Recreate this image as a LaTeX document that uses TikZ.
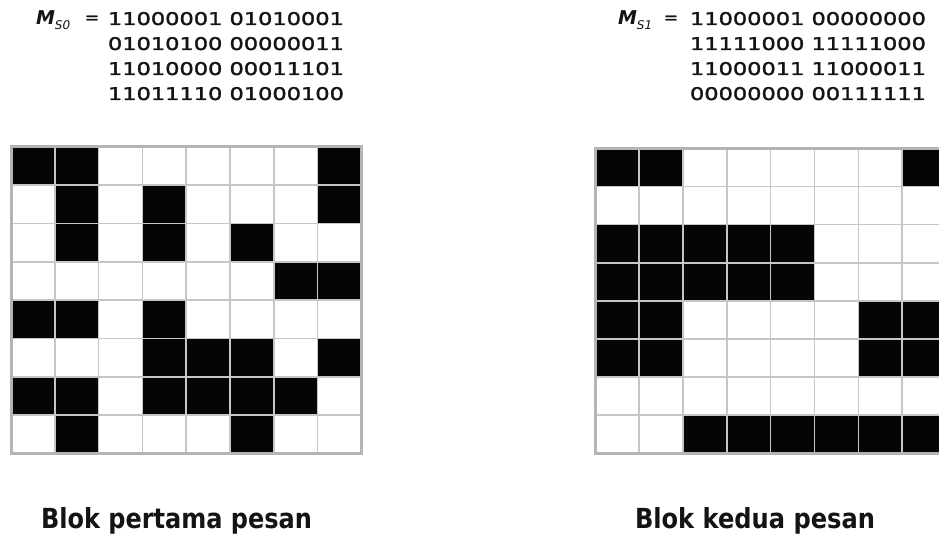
\documentclass[tikz,border=0pt]{standalone}
\usepackage{fontspec}
\setmainfont{DejaVu Sans}
\newfontfamily\bitsfont[FakeBold=1.6]{DejaVu Sans}
\usepackage{graphicx}
\definecolor{gridgray}{HTML}{C6C6C6}
\definecolor{bordergray}{HTML}{B4B4B4}
\definecolor{inkblack}{HTML}{050505}
\definecolor{textdark}{HTML}{141414}
\newcommand{\bitline}[1]{\resizebox{236pt}{13pt}{\bitsfont #1}}
\newcommand{\caplabel}[2]{\resizebox{#1}{21pt}{\bfseries #2}}
\newcommand{\mlabel}[1]{{\fontsize{19}{19}\selectfont\bfseries\itshape M}\raisebox{-5pt}{\fontsize{12}{12}\selectfont\itshape #1}}
\begin{document}
\begin{tikzpicture}[x=1pt,y=-1pt,
  txt/.style={inner sep=0pt, outer sep=0pt, text=textdark},
  cellfill/.style={fill=inkblack},
  gridline/.style={draw=gridgray, line width=1.7pt},
  borderline/.style={draw=bordergray, line width=3pt}]
\useasboundingbox (0,0) rectangle (939,534);
\clip (0,0) rectangle (939,534);
\fill[white] (0,0) rectangle (939,534);

% ---------- left block ----------
\node[txt, anchor=base west] (mL) at (36,25) {\mlabel{S0}};
\node[txt] (eqL) at (92,19.5) {\fontsize{17}{17}\selectfont\bitsfont =};
\node[txt, anchor=base west] (l1) at (108,25) {\bitline{11000001 01010001}};
\node[txt, anchor=base west] (l2) at (108,50) {\bitline{01010100 00000011}};
\node[txt, anchor=base west] (l3) at (108,75) {\bitline{11010000 00011101}};
\node[txt, anchor=base west] (l4) at (108,100) {\bitline{11011110 01000100}};

\begin{scope}[shift={(11,146.7)}, xscale=43.8, yscale=38.33]
  \foreach \row [count=\i from 0] in {{1,1,0,0,0,0,0,1},{0,1,0,1,0,0,0,1},{0,1,0,1,0,1,0,0},{0,0,0,0,0,0,1,1},{1,1,0,1,0,0,0,0},{0,0,0,1,1,1,0,1},{1,1,0,1,1,1,1,0},{0,1,0,0,0,1,0,0}}{
    \foreach \v [count=\j from 0] in \row {
      \ifnum\v=1 \fill[cellfill] (\j,\i) rectangle ++(1,1); \fi
    }
  }
  \foreach \k in {1,...,7}{
    \draw[gridline] (\k,0) -- (\k,8);
    \draw[gridline] (0,\k) -- (8,\k);
  }
  \draw[borderline] (0,0) rectangle (8,8);
\end{scope}

\node[txt, anchor=base west] (capL) at (41,528) {\caplabel{271pt}{Blok pertama pesan}};

% ---------- right block ----------
\node[txt, anchor=base west] (mR) at (618,25) {\mlabel{S1}};
\node[txt] (eqR) at (671,19.5) {\fontsize{17}{17}\selectfont\bitsfont =};
\node[txt, anchor=base west] (r1) at (690,25) {\bitline{11000001 00000000}};
\node[txt, anchor=base west] (r2) at (690,50) {\bitline{11111000 11111000}};
\node[txt, anchor=base west] (r3) at (690,75) {\bitline{11000011 11000011}};
\node[txt, anchor=base west] (r4) at (690,100) {\bitline{00000000 00111111}};

\begin{scope}[shift={(595,148.3)}, xscale=43.9, yscale=38.13]
  \foreach \row [count=\i from 0] in {{1,1,0,0,0,0,0,1},{0,0,0,0,0,0,0,0},{1,1,1,1,1,0,0,0},{1,1,1,1,1,0,0,0},{1,1,0,0,0,0,1,1},{1,1,0,0,0,0,1,1},{0,0,0,0,0,0,0,0},{0,0,1,1,1,1,1,1}}{
    \foreach \v [count=\j from 0] in \row {
      \ifnum\v=1 \fill[cellfill] (\j,\i) rectangle ++(1,1); \fi
    }
  }
  \foreach \k in {1,...,7}{
    \draw[gridline] (\k,0) -- (\k,8);
    \draw[gridline] (0,\k) -- (8,\k);
  }
  \draw[borderline] (0,0) rectangle (8,8);
\end{scope}

\node[txt, anchor=base west] (capR) at (635,528) {\caplabel{240pt}{Blok kedua pesan}};
\end{tikzpicture}
\end{document}
